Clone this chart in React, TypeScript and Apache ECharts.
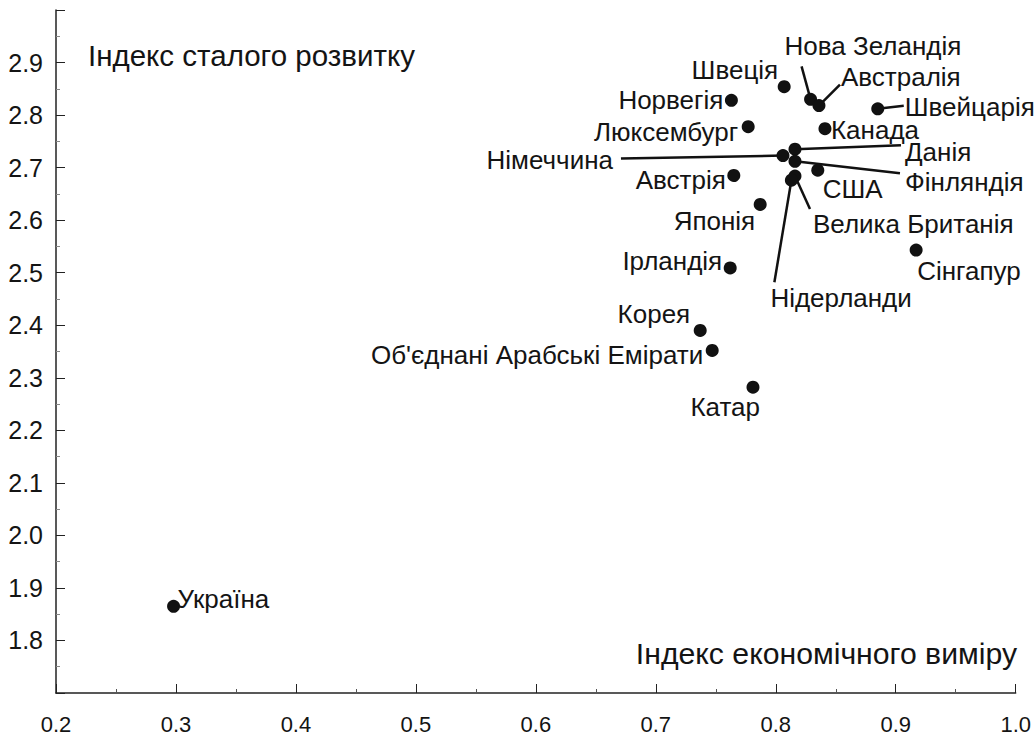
import React, { useEffect, useRef } from "react";
import * as echarts from "echarts";

const countries = [
  "Україна", "Швеція", "Норвегія", "Нова Зеландія", "Австралія", "Швейцарія",
  "Люксембург", "Канада", "Німеччина", "Данія", "Фінляндія", "США", "Австрія",
  "Велика Британія", "Нідерланди", "Японія", "Ірландія", "Сінгапур", "Корея",
  "Об'єднані Арабські Емірати", "Катар",
];
const economicIndex = [
  0.298, 0.807, 0.763, 0.829, 0.836, 0.885, 0.777, 0.841, 0.806, 0.816, 0.816,
  0.835, 0.765, 0.816, 0.813, 0.787, 0.762, 0.917, 0.737, 0.747, 0.781,
];
const sustainableIndex = [
  1.865, 2.854, 2.828, 2.830, 2.818, 2.812, 2.778, 2.774, 2.723, 2.735, 2.712,
  2.695, 2.685, 2.684, 2.676, 2.630, 2.509, 2.543, 2.390, 2.352, 2.282,
];
const xTickLabels = ["0.2", "0.3", "0.4", "0.5", "0.6", "0.7", "0.8", "0.9", "1.0"];
const yTitle = "Індекс сталого розвитку";
const xTitle = "Індекс економічного виміру";

// label layout: [dx, dy, align] relative to dot centre (pixels)
const labelLayout: [number, number, string][] = [
  [4, -7, "left"],
  [-6, -17, "right"],
  [-8, 0, "right"],
  [-26, -53, "left"],
  [22, -29, "left"],
  [27, -2, "left"],
  [-10, 5, "right"],
  [6, 1, "left"],
  [-170, 4, "right"],
  [110, 3, "left"],
  [110, 21, "left"],
  [5, 19, "left"],
  [-8, 5, "right"],
  [18, 48, "left"],
  [-21, 118, "left"],
  [-5, 17, "right"],
  [-8, -7, "right"],
  [1, 21, "left"],
  [-10, -16, "right"],
  [-9, 5, "right"],
  [7, 20, "right"],
];
// leader lines: [index, dx, dy] end offset from dot centre (pixels)
const leaders: [number, number, number][] = [
  [3, -9, -33],
  [4, 21, -21],
  [5, 26, -3],
  [8, -162, 3],
  [9, 106, -4],
  [10, 105, 12],
  [13, 15, 33],
  [14, -17, 102],
];

const FONT = "'Liberation Sans', Arial, sans-serif";
const INK = "#141414";

export default function App() {
  const ref = useRef<HTMLDivElement>(null);
  useEffect(() => {
    if (!ref.current) return;
    const chart = echarts.init(ref.current, undefined, { renderer: "svg" });
    const scatterData = countries.map((name, i) => ({
      name,
      value: [economicIndex[i], sustainableIndex[i]],
      label: {
        show: true,
        formatter: name,
        position: "inside",
        offset: [labelLayout[i][0], labelLayout[i][1]],
        align: labelLayout[i][2],
        verticalAlign: "middle",
        color: INK,
        opacity: 1,
        fontSize: 26,
        lineHeight: 22,
        fontFamily: FONT,
      },
    }));
    const leaderData = leaders.map((l) => [economicIndex[l[0]], sustainableIndex[l[0]], l[1], l[2]]);
    chart.setOption({
      animation: false,
      backgroundColor: "#ffffff",
      grid: { left: 56, right: 16, top: 10, bottom: 39 },
      xAxis: {
        type: "value",
        min: 0.2,
        max: 1.0,
        interval: 0.1,
        axisLine: { show: true, lineStyle: { color: "#222", width: 1.5 } },
        axisTick: { show: true, inside: true, length: 9, lineStyle: { color: "#222", width: 1 } },
        minorTick: { show: true, splitNumber: 2, length: 4, lineStyle: { color: "#555" } },
        splitLine: { show: false },
        axisLabel: {
          margin: 20,
          fontSize: 22,
          fontFamily: FONT,
          color: INK,
          formatter: (v: number) => {
            const idx = Math.round((v - 0.2) * 10);
            return xTickLabels[idx] ?? "";
          },
        },
      },
      yAxis: {
        type: "value",
        min: 1.7,
        max: 3.0,
        interval: 0.1,
        axisLine: { show: true, lineStyle: { color: "#222", width: 1.5 } },
        axisTick: { show: true, inside: true, length: 9, lineStyle: { color: "#222", width: 1 } },
        minorTick: { show: true, splitNumber: 2, length: 4, lineStyle: { color: "#888" } },
        splitLine: { show: false },
        axisLabel: {
          margin: 13,
          fontSize: 25,
          fontFamily: FONT,
          color: INK,
          padding: [10, 0, 0, 0],
          formatter: (v: number) => {
            if (v < 1.75 || v > 2.95) return "";
            return v.toFixed(1);
          },
        },
      },
      graphic: [
        {
          type: "text",
          left: 88,
          top: 40,
          style: { text: yTitle, fontSize: 29.5, fontFamily: FONT, fill: INK },
        },
        {
          type: "text",
          right: 17,
          top: 638,
          style: { text: xTitle, fontSize: 30.2, fontFamily: FONT, fill: INK },
        },
      ],
      series: [
        {
          type: "custom",
          data: leaderData,
          silent: true,
          z: 1,
          renderItem: (params: any, api: any) => {
            const p = api.coord([api.value(0), api.value(1)]);
            return {
              type: "line",
              shape: { x1: p[0], y1: p[1], x2: p[0] + api.value(2), y2: p[1] + api.value(3) },
              style: { stroke: "#111", lineWidth: 2.5 },
            };
          },
        },
        {
          type: "scatter",
          symbol: "circle",
          symbolSize: 13,
          itemStyle: { color: "#111", opacity: 1 },
          z: 2,
          data: scatterData,
        },
      ],
    });
    return () => chart.dispose();
  }, []);
  return (
    <div
      ref={ref}
      style={{ position: "fixed", left: 0, top: 0, width: 1034, height: 735 }}
    />
  );
}
